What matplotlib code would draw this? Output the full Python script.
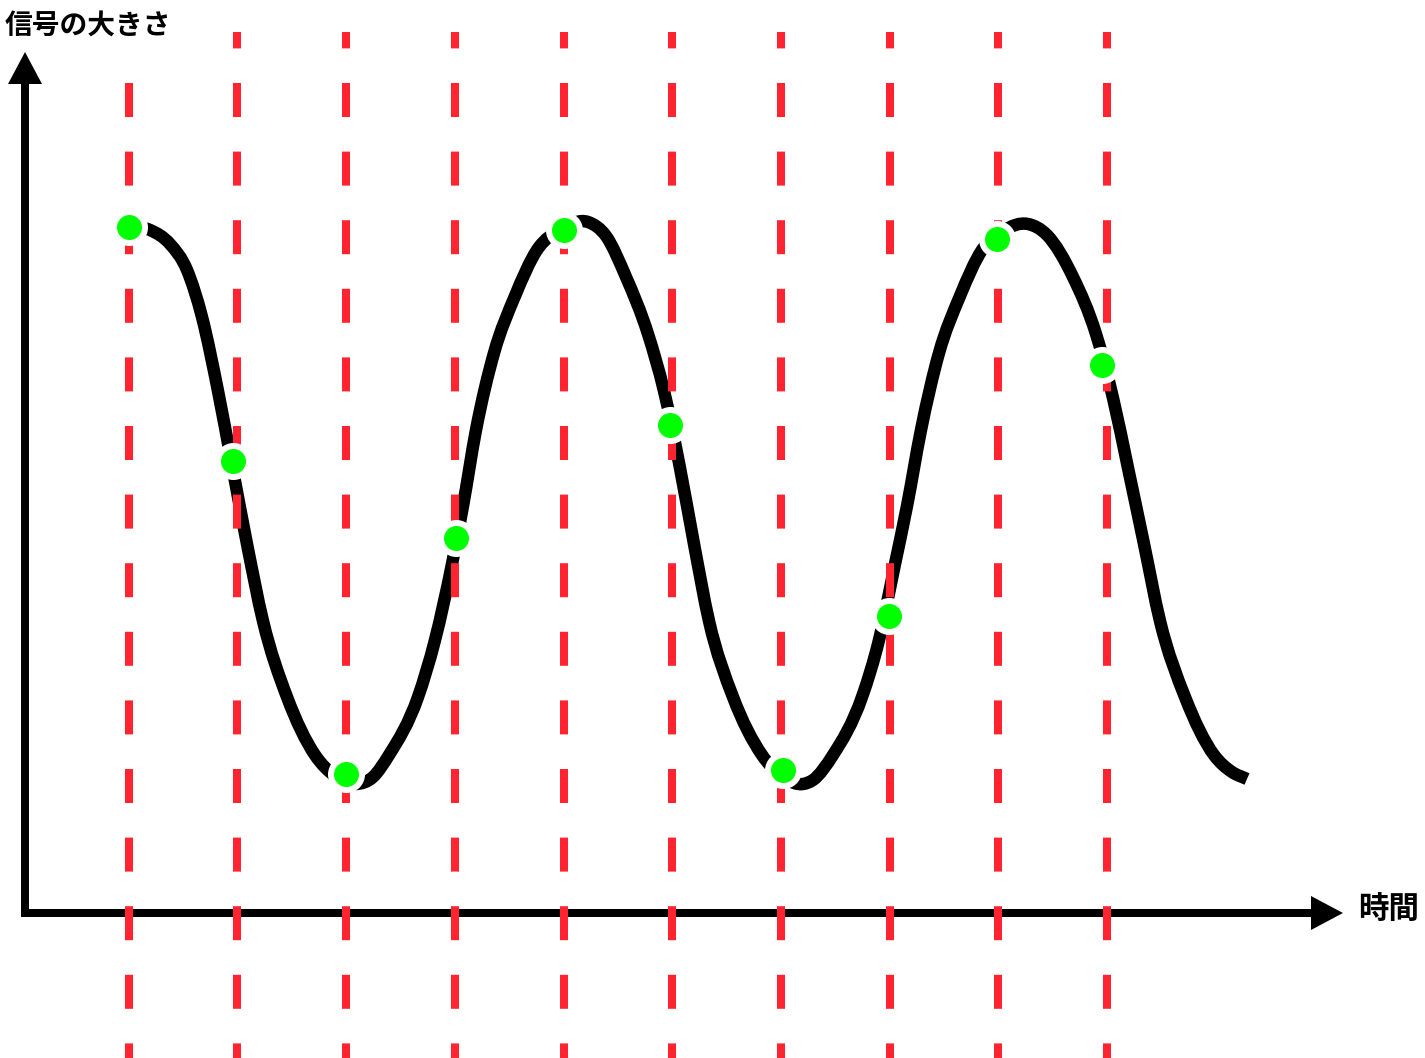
import numpy as np
import matplotlib
matplotlib.use("Agg")
import matplotlib.pyplot as plt
from matplotlib.patches import Polygon, PathPatch
from matplotlib.path import Path

plt.rcParams['font.family'] = ['Noto Sans CJK JP', 'DejaVu Sans']
plt.rcParams['lines.scale_dashes'] = False

# analog signal (time, amplitude)
curve_t = [103, 125, 145, 162, 177, 193, 207, 222, 238, 262, 290, 310, 331,
           348, 364, 393, 410, 427, 438, 451, 469, 490, 512, 537, 563,
           581, 601, 623, 639, 655, 669, 684, 708, 737, 758, 778,
           788, 808, 837, 854, 870, 882, 896, 914, 935, 957, 978, 1003,
           1022, 1048, 1071, 1088, 1103, 1119, 1135, 1160, 1189, 1207, 1222]
curve_s = [687, 683, 669, 643, 596, 522, 448, 369, 292, 216, 158, 137, 129,
           136, 158, 216, 273, 349, 407, 483, 560, 617, 663, 684, 691,
           677, 636, 579, 522, 445, 369, 292, 216, 158, 136, 129,
           133, 158, 216, 273, 349, 407, 483, 560, 617, 663, 682, 689,
           678, 636, 579, 515, 445, 369, 292, 216, 158, 141, 134]

# sampling instants (red dashed lines) and sampled values (green dots)
sample_lines = [104, 212, 321, 430, 539, 647, 756, 865, 973, 1082]
sample_t = [104, 208, 321, 431, 539, 645, 758, 864, 972, 1077]
sample_s = [686, 452, 139, 375, 683, 488, 143, 297, 674, 548]

x_label = "時間"
y_label = "信号の大きさ"

PX = 0.72  # points per pixel at dpi 100


def smooth_path(xs, ys):
    # cubic Hermite through the points (3-point slopes), drawn as Bezier segments
    x = np.asarray(xs, float)
    y = np.asarray(ys, float)
    h = np.diff(x)
    d = np.diff(y) / h
    m = np.empty_like(x)
    m[0], m[-1] = d[0], d[-1]
    m[1:-1] = (h[:-1] * d[1:] + h[1:] * d[:-1]) / (h[:-1] + h[1:])
    verts = [(x[0], y[0])]
    codes = [Path.MOVETO]
    for i in range(len(h)):
        verts += [(x[i] + h[i] / 3, y[i] + m[i] * h[i] / 3),
                  (x[i + 1] - h[i] / 3, y[i + 1] - m[i + 1] * h[i] / 3),
                  (x[i + 1], y[i + 1])]
        codes += [Path.CURVE4] * 3
    return Path(verts, codes)


fig = plt.figure(figsize=(14.25, 10.58), dpi=100)
ax = fig.add_axes([0, 0, 1, 1])
ax.set_xlim(-25, 1400)
ax.set_ylim(-145, 913)
ax.axis('off')

# signal curve
ax.add_patch(PathPatch(smooth_path(curve_t, curve_s), facecolor='none', edgecolor='black',
                       lw=12.5 * PX, capstyle='butt', joinstyle='round', zorder=2))

# axes with arrow heads
x_tip, y_tip = 1318, 861
head_len, head_half = 32, 17
ax.plot([0, 0, x_tip - head_len + 2], [y_tip - head_len + 2, 0, 0], color='black',
        lw=8 * PX, solid_joinstyle='miter', solid_capstyle='butt', zorder=2)
ax.add_patch(Polygon([[0, y_tip], [-head_half, y_tip - head_len], [head_half, y_tip - head_len]],
                     closed=True, color='black', lw=0, zorder=2))
ax.add_patch(Polygon([[x_tip, 0], [x_tip - head_len, head_half], [x_tip - head_len, -head_half]],
                     closed=True, color='black', lw=0, zorder=2))

# sampling lines
dash = (34 * PX, 34.6 * PX)
for i, t in enumerate(sample_lines):
    if i == 0:
        top, offset = 830, 0
    else:
        top, offset = 881, 17.6 * PX
    ax.plot([t, t], [top, -160], color='#FF2430', lw=8 * PX,
            linestyle=(offset, dash), dash_capstyle='butt', zorder=3)

# sampled points
ax.plot(sample_t, sample_s, linestyle='none', marker='o', markersize=31 * PX,
        markerfacecolor='#00FF00', markeredgecolor='white', markeredgewidth=6 * PX,
        zorder=4)

ax.text(-20, 886, y_label, fontsize=20, fontweight='bold', ha='left', va='center')
ax.text(1333, 3, x_label, fontsize=22, fontweight='bold', ha='left', va='center')

fig.savefig("out.png", dpi=100)
